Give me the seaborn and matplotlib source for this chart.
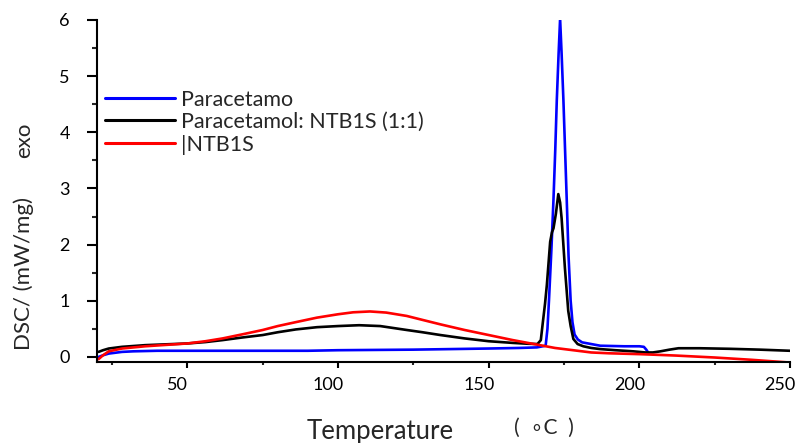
import numpy as np
import pandas as pd
import matplotlib
matplotlib.use("Agg")
import matplotlib.pyplot as plt
import matplotlib.transforms as mtransforms
from matplotlib.ticker import MultipleLocator, FixedLocator
import seaborn as sns

# ---------------- data ----------------
labels = ["Paracetamo", "Paracetamol: NTB1S (1:1)", "|NTB1S"]
colors = ["#0000ff", "#000000", "#ff0000"]

para_x = [20.5, 22, 23.9, 28.3, 32, 40, 60, 90, 100, 125, 150, 160, 166, 168.9, 169.5,
          170.0, 170.8, 171.5, 172.1, 172.6, 173.2, 173.7, 174.2, 174.8, 175.4,
          175.9, 176.5, 177.2, 177.8, 178.5, 179.6, 181.0, 184, 187, 195, 200,
          201.5, 202.3, 202.9]
para_y = [0.00, 0.03, 0.06, 0.09, 0.10, 0.11, 0.11, 0.11, 0.12, 0.13, 0.15, 0.16,
          0.17, 0.20, 0.50, 1.00, 1.90, 2.80, 3.70, 4.57, 5.40, 6.02, 5.40, 4.57,
          3.60, 2.80, 1.80, 1.00, 0.62, 0.40, 0.31, 0.26, 0.23, 0.20, 0.19, 0.19,
          0.18, 0.13, 0.08]

mix_x = [20.5, 22, 23.9, 28.3, 36, 43, 50, 56, 61.7, 68, 75, 80, 86, 93, 100, 107,
         114, 122.8, 128, 134, 142, 150, 158, 163, 166.2, 167.3, 168.0, 168.7, 169.3,
         170.4, 171.0, 171.5, 172.3, 173.1, 173.7, 174.2, 175.3, 176.4, 177.2,
         178.1, 179.5, 181.4, 184, 187, 192, 198, 202, 204.5, 207, 210, 213, 220,
         230, 240, 250]
mix_y = [0.09, 0.12, 0.15, 0.18, 0.21, 0.225, 0.24, 0.265, 0.30, 0.345, 0.39, 0.44,
         0.49, 0.53, 0.55, 0.565, 0.55, 0.48, 0.44, 0.39, 0.33, 0.28, 0.25, 0.235,
         0.23, 0.30, 0.63, 0.95, 1.28, 2.05, 2.22, 2.29, 2.55, 2.90, 2.75, 2.47,
         1.58, 0.82, 0.55, 0.32, 0.23, 0.19, 0.16, 0.14, 0.12, 0.10, 0.08, 0.08,
         0.10, 0.13, 0.155, 0.155, 0.145, 0.13, 0.11]

ntb_x = [20.5, 22, 23.9, 28.3, 36, 43, 50, 56, 61.7, 68, 75, 80, 86, 93, 100,
         105, 110.6, 116, 122.8, 128, 134, 142, 150, 158, 167, 172, 178, 184, 190,
         200, 212, 225, 237, 250]
ntb_y = [-0.04, 0.03, 0.10, 0.15, 0.19, 0.215, 0.24, 0.28, 0.33, 0.40, 0.48, 0.55,
         0.62, 0.70, 0.76, 0.795, 0.81, 0.79, 0.73, 0.66, 0.58, 0.48, 0.39, 0.30,
         0.21, 0.16, 0.12, 0.08, 0.065, 0.05, 0.025, -0.01, -0.05, -0.10]

x_ticks = [50, 100, 150, 200, 250]
y_ticks = [0, 1, 2, 3, 4, 5, 6]

df = pd.concat([
    pd.DataFrame({"T": para_x, "DSC": para_y, "sample": labels[0]}),
    pd.DataFrame({"T": mix_x, "DSC": mix_y, "sample": labels[1]}),
    pd.DataFrame({"T": ntb_x, "DSC": ntb_y, "sample": labels[2]}),
], ignore_index=True)

# ---------------- style ----------------
sns.set_style("ticks")
plt.rcParams["font.family"] = ["Lato", "DejaVu Sans"]

fig = plt.figure(figsize=(7.96, 4.43), dpi=100)
ax = fig.add_axes([97 / 796, 1 - 362 / 443, (790 - 97) / 796, (362 - 20) / 443])

sns.lineplot(data=df, x="T", y="DSC", hue="sample", hue_order=labels,
             palette=dict(zip(labels, colors)), sort=False, estimator=None,
             linewidth=1.9, ax=ax, legend=True)

ax.set_xlim(20, 250)
ax.set_ylim(-0.09, 6.0)
ax.xaxis.set_major_locator(FixedLocator(x_ticks))
ax.xaxis.set_minor_locator(MultipleLocator(25))
ax.yaxis.set_major_locator(FixedLocator(y_ticks))
ax.yaxis.set_minor_locator(MultipleLocator(0.5))

for s in ["top", "right"]:
    ax.spines[s].set_visible(False)
for s in ["left", "bottom"]:
    ax.spines[s].set_linewidth(1.5)
    ax.spines[s].set_color("black")

ax.tick_params(axis="y", which="major", length=7.5, width=1.5, pad=12, labelsize=13, colors="black")
ax.tick_params(axis="y", which="minor", length=3.8, width=1.5)
ax.tick_params(axis="x", which="major", length=4.5, width=1.5, pad=6, labelsize=13, colors="black")
ax.tick_params(axis="x", which="minor", length=2.5, width=1.5)

# labels in the original sit slightly left of their ticks
offset = mtransforms.ScaledTranslation(-0.10, 0, fig.dpi_scale_trans)
for lab in ax.get_xticklabels():
    lab.set_transform(lab.get_transform() + offset)

ax.set_xlabel("")
ax.set_ylabel("")

fig.text(24 / 796, 1 - 274 / 443, "DSC/ (mW/mg)", rotation=90, ha="center", va="center", fontsize=16)
fig.text(24 / 796, 1 - 140 / 443, "exo", rotation=90, ha="center", va="center", fontsize=16)
fig.text(380 / 796, 1 - 431 / 443, "Temperature", ha="center", va="center", fontsize=18.5)
fig.text(544 / 796, 1 - 428 / 443, "(  \u2218C  )", ha="center", va="center", fontsize=15,
         family=["Lato", "DejaVu Sans"])

# legend: one entry per row, placed at the reference row positions
handles, hlabels = ax.get_legend_handles_labels()
ax.get_legend().remove()
row_y = [97, 119, 142]
legs = []
for h, l, yy in zip(handles, hlabels, row_y):
    lg = ax.legend([h], [l], loc="center left",
                   bbox_to_anchor=((105 - 97) / 693, (362 - yy - 3) / 342),
                   frameon=False, fontsize=15.5, handlelength=3.25, handletextpad=0.3,
                   borderpad=0, borderaxespad=0)
    for line in lg.get_lines():
        line.set_linewidth(2.2)
    legs.append(lg)
for lg in legs[:-1]:
    ax.add_artist(lg)

fig.savefig("out.png", dpi=100)
